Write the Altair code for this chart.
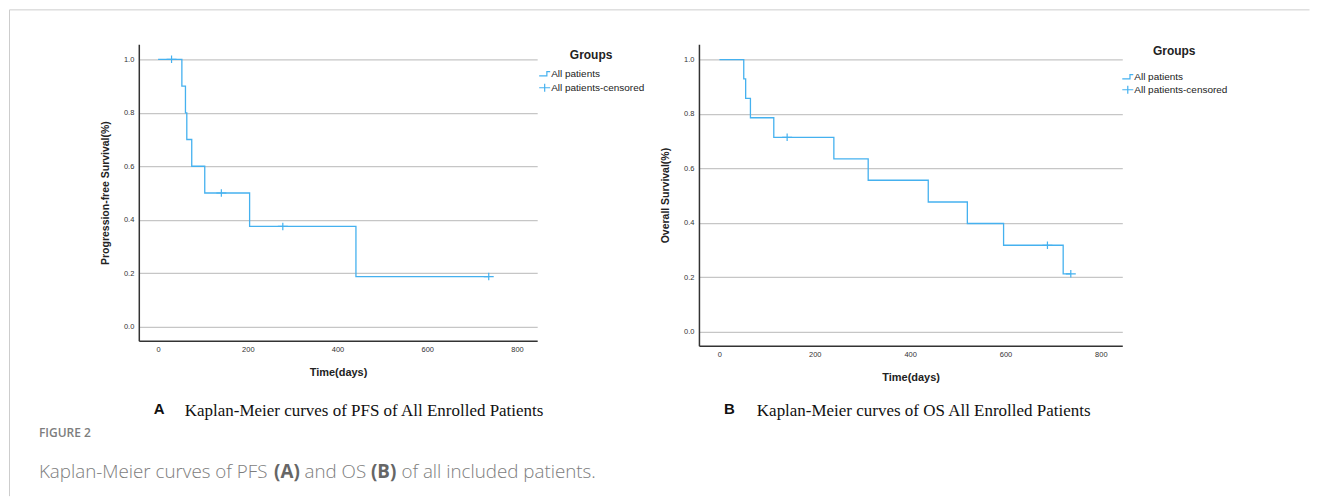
import altair as alt
import pandas as pd

BLUE = "#45b1ef"

# ---- data ----
pfs_days = [0, 53, 61, 64, 75, 104, 204, 441, 737]
pfs_surv = [1.0, 0.9, 0.8, 0.7, 0.6, 0.5, 0.375, 0.1875, 0.1875]
pfs_cens_days = [30, 141, 278, 737]
pfs_cens_surv = [1.0, 0.5, 0.375, 0.1875]

os_days = [0, 51, 55, 65, 114, 240, 312, 438, 520, 596, 721, 737]
os_surv = [1.0, 0.929, 0.857, 0.786, 0.714, 0.635, 0.556, 0.476, 0.397, 0.317, 0.212, 0.212]
os_cens_days = [142, 688, 737]
os_cens_surv = [0.714, 0.317, 0.212]

x_ticks = [0, 200, 400, 600, 800]
y_ticks = [0.0, 0.2, 0.4, 0.6, 0.8, 1.0]
groups = ["All patients", "All patients-censored"]

STEP_PATH = "M-1,0.4H0.4V-0.4H1"
CROSS_PATH = "M-1,0H1M0,-0.75V0.75"

SANS = "Liberation Sans"
SERIF = "Liberation Serif"
CAP = "Open Sans"


def txt(text, x, y, size, font, weight, color, align="left"):
    return alt.Chart(pd.DataFrame({"label": [text]})).mark_text(
        align=align, baseline="middle", fontSize=size, font=font,
        fontWeight=weight, color=color
    ).encode(x=alt.value(x), y=alt.value(y), text="label:N")


def panel(days, surv, cdays, csurv, ytitle, w, h, legx, legy, title_pad, row_pad, extras):
    line_df = pd.DataFrame({"t": days, "s": surv})
    cens_df = pd.DataFrame({"t": cdays, "s": csurv, "g": [groups[1]] * len(cdays)})
    xs = alt.Scale(domain=[-43, 845], nice=False, zero=False)
    ys = alt.Scale(domain=[-0.053, 1.056], nice=False, zero=False)
    xax = alt.Axis(values=x_ticks, title="Time(days)", grid=False, ticks=False,
                   labelFont=SANS, labelFontSize=7.5, labelColor="#333",
                   labelPadding=5, domainColor="#333", domainWidth=1.5,
                   titleFont=SANS, titleFontSize=11, titleFontWeight="bold",
                   titleColor="#222", titleX=w / 2, titleY=32,
                   titleBaseline="middle", titleAlign="center")
    yax = alt.Axis(values=y_ticks, format=".1f", title=ytitle, grid=True,
                   gridColor="#c6c6c6", gridWidth=1.3, ticks=False,
                   labelFont=SANS, labelFontSize=7.5, labelColor="#333",
                   labelPadding=5, domainColor="#333", domainWidth=1.5,
                   titleFont=SANS, titleFontSize=10.5, titleFontWeight="bold",
                   titleColor="#222", titleX=-33, titleY=h / 2, titleAngle=-90,
                   titleBaseline="middle", titleAlign="center")
    line = alt.Chart(line_df).mark_line(
        interpolate="step-after", color=BLUE, strokeWidth=1.3
    ).encode(x=alt.X("t:Q", scale=xs, axis=xax), y=alt.Y("s:Q", scale=ys, axis=yax))
    cens = alt.Chart(cens_df).mark_point(
        filled=False, color=BLUE, strokeWidth=1.2, size=100, opacity=1
    ).encode(
        x="t:Q", y="s:Q",
        shape=alt.Shape("g:N", scale=alt.Scale(domain=groups, range=[STEP_PATH, CROSS_PATH]),
                        legend=alt.Legend(
                            title="Groups", orient="none", legendX=legx, legendY=legy,
                            titleFont=SANS, titleFontSize=12, titleFontWeight="bold",
                            titleColor="#222", titleAnchor="middle", titlePadding=title_pad,
                            labelFont=SANS, labelFontSize=10, labelColor="#222",
                            labelOffset=0, symbolSize=121, symbolStrokeWidth=1.2,
                            symbolStrokeColor=BLUE, symbolFillColor="transparent",
                            rowPadding=row_pad)),
    )
    return alt.layer(line, cens, *extras).properties(width=w, height=h)


frame_df = pd.DataFrame({"a": [0]})
frame_v = alt.Chart(frame_df).mark_rule(color="#cdcdcd", strokeWidth=1).encode(
    x=alt.value(-129.5), y=alt.value(-34.5), y2=alt.value(452.5))
frame_h = alt.Chart(frame_df).mark_rule(color="#cdcdcd", strokeWidth=1).encode(
    x=alt.value(-129.5), x2=alt.value(1172.5), y=alt.value(-34.5))

cap_gray = "#7d7d7d"
CS = 18.8
extras_a = [
    frame_v, frame_h,
    txt("A", 15, 365, 15, SANS, "bold", "#111"),
    txt("Kaplan-Meier curves of PFS of All Enrolled Patients", 46, 367, 17, SERIF, "normal", "#111"),
    txt("FIGURE 2", -100, 389, 12, CAP, 600, cap_gray),
    txt("Kaplan-Meier curves of PFS", -100, 428, CS, CAP, 300, cap_gray),
    txt("(A)", 135.5, 428, CS, CAP, "bold", "#666"),
    txt("and OS", 166, 428, CS, CAP, 300, cap_gray),
    txt("(B)", 232.5, 428, CS, CAP, "bold", "#666"),
    txt("of all included patients.", 263, 428, CS, CAP, 300, cap_gray),
]
extras_b = [
    txt("B", 25, 365, 15, SANS, "bold", "#111"),
    txt("Kaplan-Meier curves of OS All Enrolled Patients", 58, 367, 17, SERIF, "normal", "#111"),
]

pa = panel(pfs_days, pfs_surv, pfs_cens_days, pfs_cens_surv,
           "Progression-free Survival(%)", 399, 297, 400, 6, 5, 1, extras_a)
pb = panel(os_days, os_surv, os_cens_days, os_cens_surv,
           "Overall Survival(%)", 424, 302, 423, 2, 12, 0, extras_b)

chart = alt.hconcat(pa, pb, spacing=162, bounds="flush").resolve_scale(
    x="independent", y="independent", shape="independent"
).resolve_legend(shape="independent").properties(
    padding=0,
).configure_view(stroke="transparent")

chart.save("out.html", embed_options={"renderer": "svg", "actions": False})
